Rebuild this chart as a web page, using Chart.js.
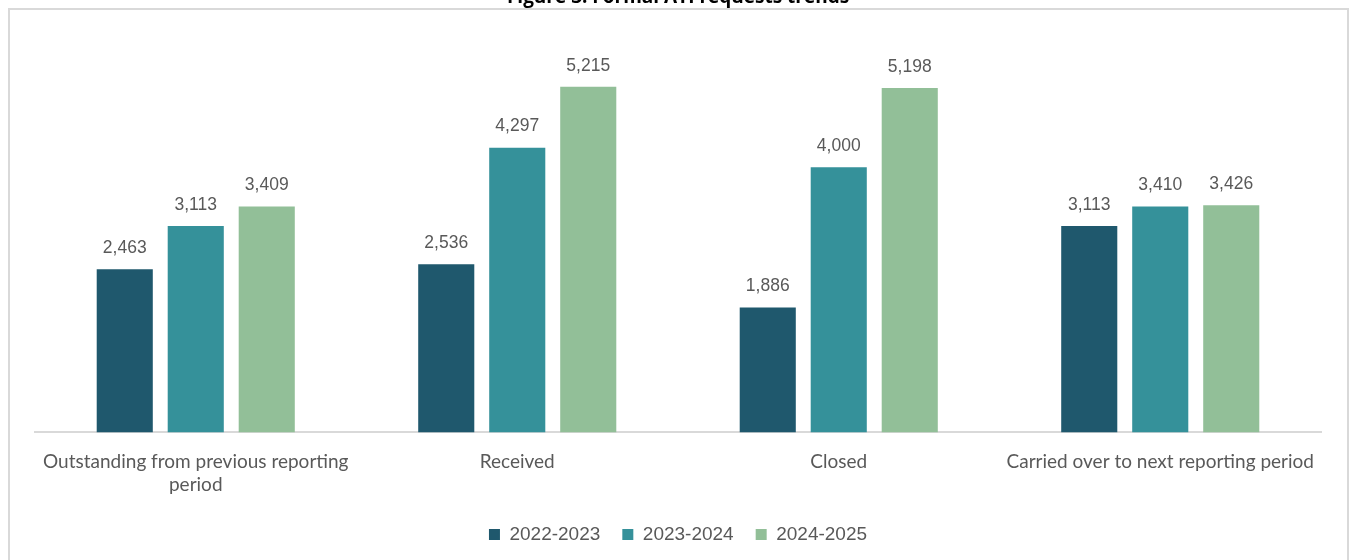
<!DOCTYPE html>
<html>
<head>
<meta charset="utf-8">
<script src="https://cdn.jsdelivr.net/npm/chart.js@4"></script>
<style>
  body { margin: 0; background: #fff; overflow: hidden; }
  #frame { position: absolute; left: 8px; top: 8px; width: 1337px; height: 600px; border: 2px solid #d9d9d9; }
  #wrap { position: absolute; left: 0; top: -14px; width: 1352px; height: 574px; }
</style>
</head>
<body>
<div id="frame"></div>
<div id="wrap"><canvas id="chart"></canvas></div>
<script>
// chart data
const categories = [
    ['Outstanding from previous reporting', 'period'],
    'Received',
    'Closed',
    'Carried over to next reporting period'
];
const seriesNames = ['2022-2023', '2023-2024', '2024-2025'];
const values2022 = [2463, 2536, 1886, 3113];
const values2023 = [3113, 4297, 4000, 3410];
const values2024 = [3409, 5215, 5198, 3426];
const seriesColors = ['#1f586d', '#35919a', '#92bf98'];

// draws the number above every bar
const barLabels = {
    id: 'barLabels',
    afterDatasetsDraw(chart) {
        const ctx = chart.ctx;
        ctx.save();
        ctx.font = '17.5px "Liberation Sans", Arial, sans-serif';
        ctx.fillStyle = '#595959';
        ctx.textAlign = 'center';
        ctx.textBaseline = 'middle';
        chart.data.datasets.forEach((ds, i) => {
            chart.getDatasetMeta(i).data.forEach((bar, j) => {
                ctx.fillText(ds.data[j].toLocaleString('en-US'), bar.x, bar.y - 21);
            });
        });
        ctx.restore();
    }
};

const allValues = [values2022, values2023, values2024];

new Chart(document.getElementById('chart').getContext('2d'), {
    type: 'bar',
    data: {
        labels: categories,
        datasets: seriesNames.map((name, i) => ({
            label: name,
            data: allValues[i],
            backgroundColor: seriesColors[i],
            borderWidth: 0,
            categoryPercentage: 0.6625,
            barPercentage: 0.79
        }))
    },
    options: {
        responsive: true, maintainAspectRatio: false,
        animation: false,
        layout: { padding: { left: 35, right: 31, top: 0, bottom: 6 } },
        plugins: {
            tooltip: { enabled: false },
            title: {
                display: true,
                text: 'Figure 3: Formal ATI requests trends',
                color: '#000',
                font: { family: '"Open Sans", sans-serif', size: 19, weight: 'bold' },
                padding: { top: 0, bottom: 26 }
            },
            legend: {
                position: 'bottom',
                labels: {
                    color: '#595959',
                    boxWidth: 11, boxHeight: 11,
                    padding: 22,
                    font: { family: '"Liberation Sans", Arial, sans-serif', size: 19 }
                }
            }
        },
        scales: {
            x: {
                grid: { display: false },
                border: { color: '#d9d9d9', width: 2 },
                afterFit: (scale) => { scale.height -= 3; },
                ticks: {
                    color: '#595959',
                    padding: 10,
                    maxRotation: 0,
                    font: { family: 'Lato, sans-serif', size: 19, lineHeight: 1.2 }
                }
            },
            y: { display: false, min: 0, max: 6000 }
        }
    },
    plugins: [barLabels]
});
</script>
</body>
</html>
